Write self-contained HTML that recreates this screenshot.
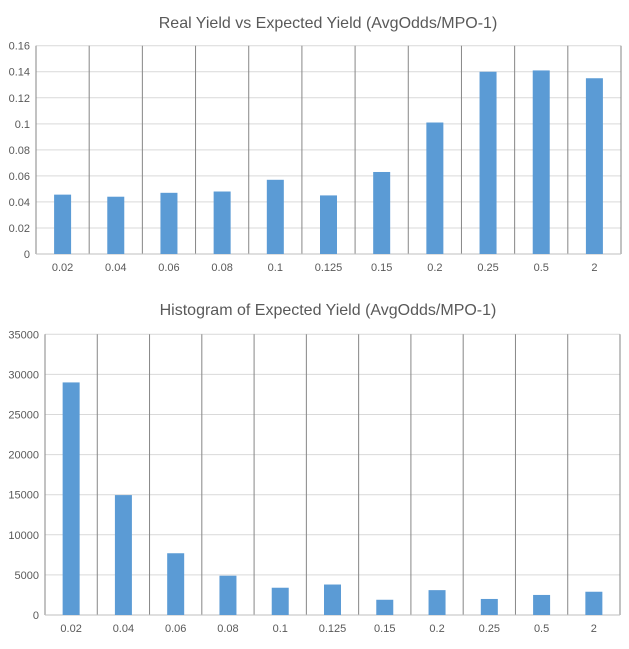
<!DOCTYPE html>
<html><head><meta charset="utf-8"><style>
body{margin:0;background:#fff;}
svg text{font-family:"Liberation Sans",sans-serif;fill:#595959;}
</style></head><body>
<svg id="s" width="629" height="644" xmlns="http://www.w3.org/2000/svg">
<text x="328" y="28" text-anchor="middle" font-size="16">Real Yield vs Expected Yield (AvgOdds/MPO-1)</text>
<text x="328" y="315" text-anchor="middle" font-size="16">Histogram of Expected Yield (AvgOdds/MPO-1)</text>
</svg>
<script>
const categories=["0.02","0.04","0.06","0.08","0.1","0.125","0.15","0.2","0.25","0.5","2"];
const realYield=[0.0456,0.044,0.047,0.048,0.057,0.045,0.063,0.101,0.140,0.141,0.135];
const topTicks=[0,0.02,0.04,0.06,0.08,0.1,0.12,0.14,0.16];
const histCounts=[29000,14950,7700,4900,3400,3800,1900,3100,2000,2500,2900];
const bottomTicks=[0,5000,10000,15000,20000,25000,30000,35000];
const svg=document.getElementById('s');
const NS='http://www.w3.org/2000/svg';
function mk(t,a){const e=document.createElementNS(NS,t);for(const k in a)e.setAttribute(k,a[k]);svg.appendChild(e);return e;}
function chart(cfg,vals,ticks,prefix){
  const {left,right,top,bottom,max}=cfg;
  const cw=(right-left)/categories.length;
  const y=v=>bottom-(v/max)*(bottom-top);
  const x=i=>left+cw*i;
  ticks.forEach(t=>{
    if(t>0){const l=mk('line',{x1:left,x2:right,y1:y(t),y2:y(t),stroke:'#d9d9d9','stroke-width':1});
    
    }
    const tx=mk('text',{x:left-6,y:y(t)+4,'text-anchor':'end','font-size':11});
    tx.textContent=String(t);
    
    
  });
  for(let i=0;i<=categories.length;i++){
    const l=mk('line',{x1:x(i),x2:x(i),y1:top,y2:bottom,stroke:'#868686','stroke-width':1});
    
    
  }
  const ax=mk('line',{x1:left,x2:right,y1:bottom,y2:bottom,stroke:'#bfbfbf','stroke-width':1});
  
  
  vals.forEach((v,i)=>{
    const r=mk('rect',{x:x(i)+cw/2-8.5,y:y(v),width:17,height:bottom-y(v),fill:'#5b9bd5'});
    
    
    const tx=mk('text',{x:x(i)+cw/2,y:bottom+17,'text-anchor':'middle','font-size':11});
    tx.textContent=categories[i];
    
    
  });
}
chart({left:36,right:621,top:45.7,bottom:254,max:0.16},realYield,topTicks,'top');
chart({left:45,right:620,top:334.3,bottom:615,max:35000},histCounts,bottomTicks,'bottom');
</script>
</body></html>
